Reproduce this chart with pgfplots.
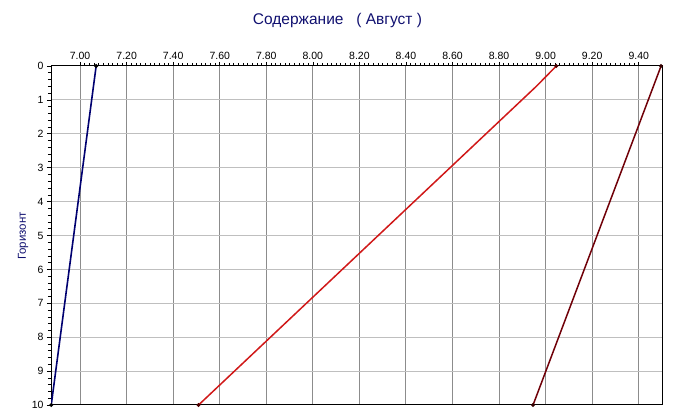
\documentclass[border=0pt]{standalone}
\usepackage{fontspec}
\setmainfont{Liberation Sans}
\usepackage{pgfplots}
\pgfplotsset{compat=1.18}
\definecolor{navyc}{HTML}{000070}
\definecolor{redc}{HTML}{D01818}
\definecolor{darkredc}{HTML}{700008}
\definecolor{titlec}{HTML}{101070}
\begin{document}
\begin{tikzpicture}
\useasboundingbox (0pt,0pt) rectangle (675pt,419pt);
\node[text=titlec,font=\fontsize{15.5}{17}\selectfont] at (337.5pt,398pt) {Содержание \ \ ( Август )};
\node[text=titlec,font=\fontsize{11.5}{13}\selectfont,rotate=90] at (23pt,183pt) {Горизонт};
\begin{axis}[
  at={(51pt,14pt)}, anchor=south west,
  scale only axis, width=611pt, height=339pt,
  xmin=6.875, xmax=9.50, ymin=0, ymax=10,
  y dir=reverse,
  xtick={7.0,7.2,7.4,7.6,7.8,8.0,8.2,8.4,8.6,8.8,9.0,9.2,9.4},
  xticklabels={7.00,7.20,7.40,7.60,7.80,8.00,8.20,8.40,8.60,8.80,9.00,9.20,9.40},
  ytick={0,1,...,10},
  minor x tick num=9, minor y tick num=4,
  xtick pos=upper, xticklabel pos=upper, ytick pos=left,
  tick align=outside,
  major tick length=4pt, minor tick length=3pt,
  tick style={black, line width=0.6pt},
  xmajorgrids, ymajorgrids,
  x grid style={color=black!45, line width=1pt},
  y grid style={color=black!25, line width=1pt},
  axis line style={black, line width=1pt},
  ticklabel style={font=\fontsize{10.5}{12}\selectfont},
  /pgf/number format/assume math mode=true,
  xticklabel style={yshift=-1pt},
  yticklabel style={xshift=0pt},
]
\addplot[navyc, line width=1.6pt, mark=*, mark size=1.1pt, mark options={fill=black,draw=black}] coordinates {(7.069,0) (6.876,10)};
\addplot[redc, line width=1.5pt, mark=*, mark size=1.1pt, mark indices={1,3}, mark options={fill=black!70!red,draw=black!70!red}] coordinates {
(9.046,0) (8.96,0.6) (7.509,10)};
\addplot[darkredc, line width=1.5pt, mark=*, mark size=1.1pt, mark options={fill=black!80!red,draw=black!80!red}] coordinates {(9.496,0) (8.946,10)};
\end{axis}
\end{tikzpicture}
\end{document}
